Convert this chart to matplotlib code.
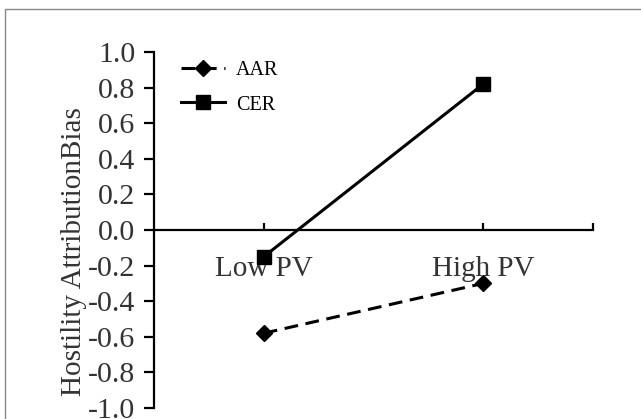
import numpy as np
import matplotlib
matplotlib.use("Agg")
import matplotlib.pyplot as plt
from matplotlib.patches import Rectangle

# 数据
categories = ["Low PV", "High PV"]
aar = [-0.58, -0.30]
cer = [-0.15, 0.82]
y_ticks = [-1.0, -0.8, -0.6, -0.4, -0.2, 0.0, 0.2, 0.4, 0.6, 0.8, 1.0]

plt.rcParams['font.family'] = ['Liberation Serif', 'DejaVu Serif']

fig = plt.figure(figsize=(6.41, 4.19), dpi=100)
# 外框
fig.patches.append(Rectangle((4.5/641, -0.2), 1.2, 1.2 - 9.3/419, transform=fig.transFigure,
                             fill=False, edgecolor='#888888', linewidth=1.0))

ax = fig.add_axes([154/641, 1 - 408/419, (593-154)/641, (408-52)/419])
x = np.arange(len(categories))
ax.plot(x, aar, color='black', linestyle=(0, (4.5, 2.5)), linewidth=2.2,
        marker='D', markersize=8, label='AAR')
ax.plot(x, cer, color='black', linestyle='-', linewidth=2.2,
        marker='s', markersize=10.5, label='CER')

ax.set_xlim(-0.5, 1.5)
ax.set_ylim(-1.0, 1.0)
ax.set_yticks(y_ticks)
ax.set_yticklabels([f"{v:.1f}" for v in y_ticks])
ax.set_xticks([0, 1, 1.5])
ax.set_xticklabels(categories + [""])

ax.spines['top'].set_visible(False)
ax.spines['right'].set_visible(False)
ax.spines['bottom'].set_position(('data', 0))
ax.spines['left'].set_linewidth(1.6)
ax.spines['bottom'].set_linewidth(1.6)

ax.tick_params(axis='y', direction='out', length=7, width=1.6, pad=6.5,
               labelsize=21.5, labelcolor='#333333')
ax.tick_params(axis='x', direction='in', length=5, width=1.6, pad=19,
               labelsize=21, labelcolor='#333333')

ax.set_ylabel("Hostility AttributionBias", fontsize=21, color='#333333')
ax.yaxis.set_label_coords(-0.153, 0.44)

ax.legend(loc='upper left', bbox_to_anchor=(0.02, 1.025), frameon=False, fontsize=14.5,
          handlelength=2.2, handletextpad=0.55, labelspacing=0.75)

fig.savefig("out.png", dpi=100)
